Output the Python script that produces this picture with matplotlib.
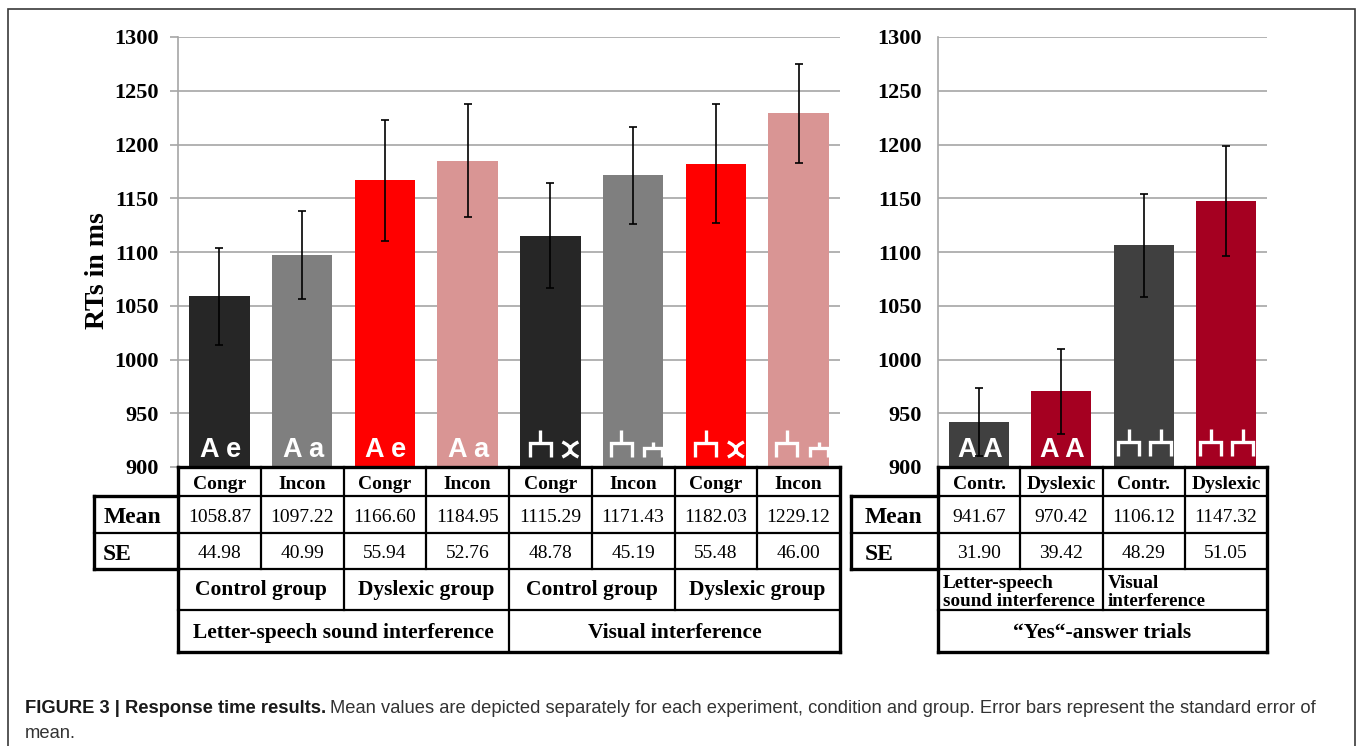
import matplotlib
matplotlib.use('Agg')
import numpy as np
import matplotlib.pyplot as plt
import matplotlib.transforms as mtransforms
from matplotlib.path import Path
from matplotlib.patches import PathPatch, Rectangle

# response times, two experiments x condition x group
left_header = ['Congr', 'Incon', 'Congr', 'Incon', 'Congr', 'Incon', 'Congr', 'Incon']
left_mean = [1058.87, 1097.22, 1166.60, 1184.95, 1115.29, 1171.43, 1182.03, 1229.12]
left_se = [44.98, 40.99, 55.94, 52.76, 48.78, 45.19, 55.48, 46.00]
left_groups = ['Control group', 'Dyslexic group', 'Control group', 'Dyslexic group']
left_experiments = ['Letter-speech sound interference', 'Visual interference']
left_colors = ['#262626', '#7f7f7f', '#ff0000', '#d99594'] * 2
left_glyphs = ['A e', 'A a', 'A e', 'A a', 'fork_x', 'fork_small', 'fork_x', 'fork_small']

# "yes"-answer trials
right_header = ['Contr.', 'Dyslexic', 'Contr.', 'Dyslexic']
right_mean = [941.67, 970.42, 1106.12, 1147.32]
right_se = [31.90, 39.42, 48.29, 51.05]
right_groups = ['Letter-speech\nsound interference', 'Visual\ninterference']
right_experiments = ['\u201cYes\u201c-answer trials']
right_colors = ['#404040', '#a50021', '#404040', '#a50021']
right_glyphs = ['A A', 'A A', 'fork_fork', 'fork_fork']

row_names = ['Mean', 'SE']
yticks = list(range(900, 1301, 50))

W, H = 1358, 746
SERIF = 'Liberation Serif'
SANS = 'Liberation Sans'

fig = plt.figure(figsize=(W / 100, H / 100), dpi=100)


def fx(px):
    return px / W


def fy(py):
    return 1 - py / H


ax1 = fig.add_axes([fx(178), fy(467), fx(840) - fx(178), fy(37) - fy(467)])
ax2 = fig.add_axes([fx(938), fy(467), fx(1267) - fx(938), fy(37) - fy(467)])


def style_axes(ax, n, ticklen, pad):
    ax.set_xlim(-0.5, n - 0.5)
    ax.set_ylim(900, 1300)
    ax.set_yticks(yticks)
    ax.set_xticks([])
    ax.yaxis.grid(True, color='#a6a6a6', lw=1.2)
    ax.set_axisbelow(True)
    for s in ['top', 'right', 'bottom']:
        ax.spines[s].set_visible(False)
    ax.spines['left'].set_color('#a6a6a6')
    ax.spines['left'].set_linewidth(1.2)
    ax.tick_params(axis='y', length=ticklen, width=1.2, color='#a6a6a6', pad=pad)
    for lab in ax.get_yticklabels():
        lab.set_fontfamily(SERIF)
        lab.set_fontweight('bold')
        lab.set_fontsize(16)


def glyph_trans(ax, x, dx):
    return mtransforms.ScaledTranslation(x, 900, ax.transData) + mtransforms.Affine2D().translate(dx, 0)


def draw_fork(ax, x, dx, w, y0, yb, ytop):
    t = glyph_trans(ax, x, dx)
    kw = dict(transform=t, color='white', lw=2.4, clip_on=False,
              solid_capstyle='butt', solid_joinstyle='miter', zorder=3)
    ax.plot([-w / 2, -w / 2, w / 2, w / 2], [y0, yb, yb, y0], **kw)
    ax.plot([0, 0], [yb, ytop], **kw)


def draw_cross(ax, x, dx):
    t = glyph_trans(ax, x, dx)
    verts = [(-8, 25), (8, 17.5), (-8, 10), (8, 25), (-8, 17.5), (8, 10)]
    codes = [Path.MOVETO, Path.CURVE3, Path.CURVE3, Path.MOVETO, Path.CURVE3, Path.CURVE3]
    ax.add_patch(PathPatch(Path(verts, codes), transform=t, fill=False,
                           edgecolor='white', lw=2.4, clip_on=False, zorder=3))


def draw_bars(ax, means, se, colors, glyphs):
    x = np.arange(len(means))
    ax.bar(x, np.array(means) - 900, bottom=900, width=0.73, color=colors, zorder=2)
    ax.errorbar(x, means, yerr=se, fmt='none', ecolor='black', elinewidth=1.2,
                capsize=3, capthick=1.2, zorder=4)
    for i, g in enumerate(glyphs):
        if g == 'fork_x':
            draw_fork(ax, i, -10, 21, 10, 24, 37)
            draw_cross(ax, i, 20)
        elif g == 'fork_small':
            draw_fork(ax, i, -12, 21, 10, 24, 37)
            draw_fork(ax, i, 20, 18, 10, 19, 25)
        elif g == 'fork_fork':
            draw_fork(ax, i, -15, 21, 11, 25, 38)
            draw_fork(ax, i, 17, 21, 11, 25, 38)
        else:
            ax.annotate(g, xy=(i, 900), xytext=(1, 10), textcoords='offset pixels',
                        ha='center', va='baseline', color='white', fontsize=19.5,
                        fontweight='bold', family=SANS, annotation_clip=False, zorder=3)


rows = [467, 496, 533, 569, 610, 652]


def draw_table(ax, header, means, se, groups, experiments, label_left, label_pad,
               group_align='center'):
    n = len(header)
    T = mtransforms.blended_transform_factory(ax.transData, fig.transFigure)
    thin, thick = 1.6, 2.4
    lkw = dict(transform=T, color='black', clip_on=False, solid_capstyle='projecting', zorder=5)

    def hline(x0, x1, py, lw):
        ax.plot([x0, x1], [fy(py), fy(py)], lw=lw, **lkw)

    def vline(x, py0, py1, lw):
        ax.plot([x, x], [fy(py0), fy(py1)], lw=lw, **lkw)

    left, right = -0.5, n - 0.5
    # inner grid
    for py in rows[1:-1]:
        hline(left, right, py, thin)
    for i in range(1, n):
        vline(i - 0.5, rows[0], rows[3], thin)
    gw = n // len(groups)
    for g in range(1, len(groups)):
        vline(g * gw - 0.5, rows[3], rows[4], thin)
    ew = n // len(experiments)
    for e in range(1, len(experiments)):
        vline(e * ew - 0.5, rows[4], rows[5], thin)
    # outer box
    hline(left, right, rows[0], thick)
    hline(left, right, rows[-1], thick)
    vline(left, rows[0], rows[-1], thick)
    vline(right, rows[0], rows[-1], thick)
    # row-label box
    hline(label_left, left, rows[1], thick)
    hline(label_left, left, rows[3], thick)
    hline(label_left, left, rows[2], thin)
    vline(label_left, rows[1], rows[3], thick)

    # text centre of row r, nudged down a few pixels
    def yc(r, nudge=3):
        return fy((rows[r] + rows[r + 1]) / 2 + nudge)

    tkw = dict(transform=T, family=SERIF, va='center', clip_on=False)
    for i in range(n):
        ax.text(i, yc(0), header[i], ha='center', fontsize=14, fontweight='bold', **tkw)
        ax.text(i, yc(1), '{:.2f}'.format(means[i]), ha='center', fontsize=14, **tkw)
        ax.text(i, yc(2), '{:.2f}'.format(se[i]), ha='center', fontsize=14, **tkw)
    for r, name in enumerate(row_names):
        ax.text(label_left + label_pad, yc(r + 1), name, ha='left', fontsize=17,
                fontweight='bold', **tkw)
    for g, name in enumerate(groups):
        if group_align == 'center':
            ax.text(g * gw + (gw - 1) / 2, yc(3, 0), name, ha='center', fontsize=15.5,
                    fontweight='bold', **tkw)
        else:
            ax.text(g * gw - 0.5 + 0.06, yc(3), name, ha='left', fontsize=13.8,
                    fontweight='bold', linespacing=1.1, **tkw)
    for e, name in enumerate(experiments):
        ax.text(e * ew + (ew - 1) / 2, yc(4, 2), name, ha='center', fontsize=15.5,
                fontweight='bold', **tkw)


style_axes(ax1, len(left_mean), 6, 8)
style_axes(ax2, len(right_mean), 0, 12)
draw_bars(ax1, left_mean, left_se, left_colors, left_glyphs)
draw_bars(ax2, right_mean, right_se, right_colors, right_glyphs)
draw_table(ax1, left_header, left_mean, left_se, left_groups, left_experiments,
           -1.515, 0.11)
draw_table(ax2, right_header, right_mean, right_se, right_groups, right_experiments,
           -1.557, 0.17, group_align='left')

fig.text(fx(98), fy(271), 'RTs in ms', rotation=90, ha='center', va='center',
         family=SERIF, fontweight='bold', fontsize=20)

# caption
cap_size = 13.2
t1 = fig.text(fx(25), fy(713), 'FIGURE 3 | Response time results.', fontweight='bold',
              family=SANS, fontsize=cap_size, va='baseline', color='#1a1a1a')
renderer = fig.canvas.get_renderer()
bb = t1.get_window_extent(renderer)
fig.text((bb.x1 + 4) / W, fy(713),
         'Mean values are depicted separately for each experiment, condition and group. '
         'Error bars represent the standard error of',
         family=SANS, fontsize=cap_size, va='baseline', color='#333333')
fig.text(fx(25), fy(738), 'mean.', family=SANS, fontsize=cap_size, va='baseline',
         color='#333333')

# outer frame
fig.add_artist(Rectangle((fx(8), fy(800)), fx(1355) - fx(8), fy(9) - fy(800),
                         transform=fig.transFigure, fill=False, edgecolor='#3a3a3a', lw=1.2))

fig.savefig('out.png', dpi=100)
